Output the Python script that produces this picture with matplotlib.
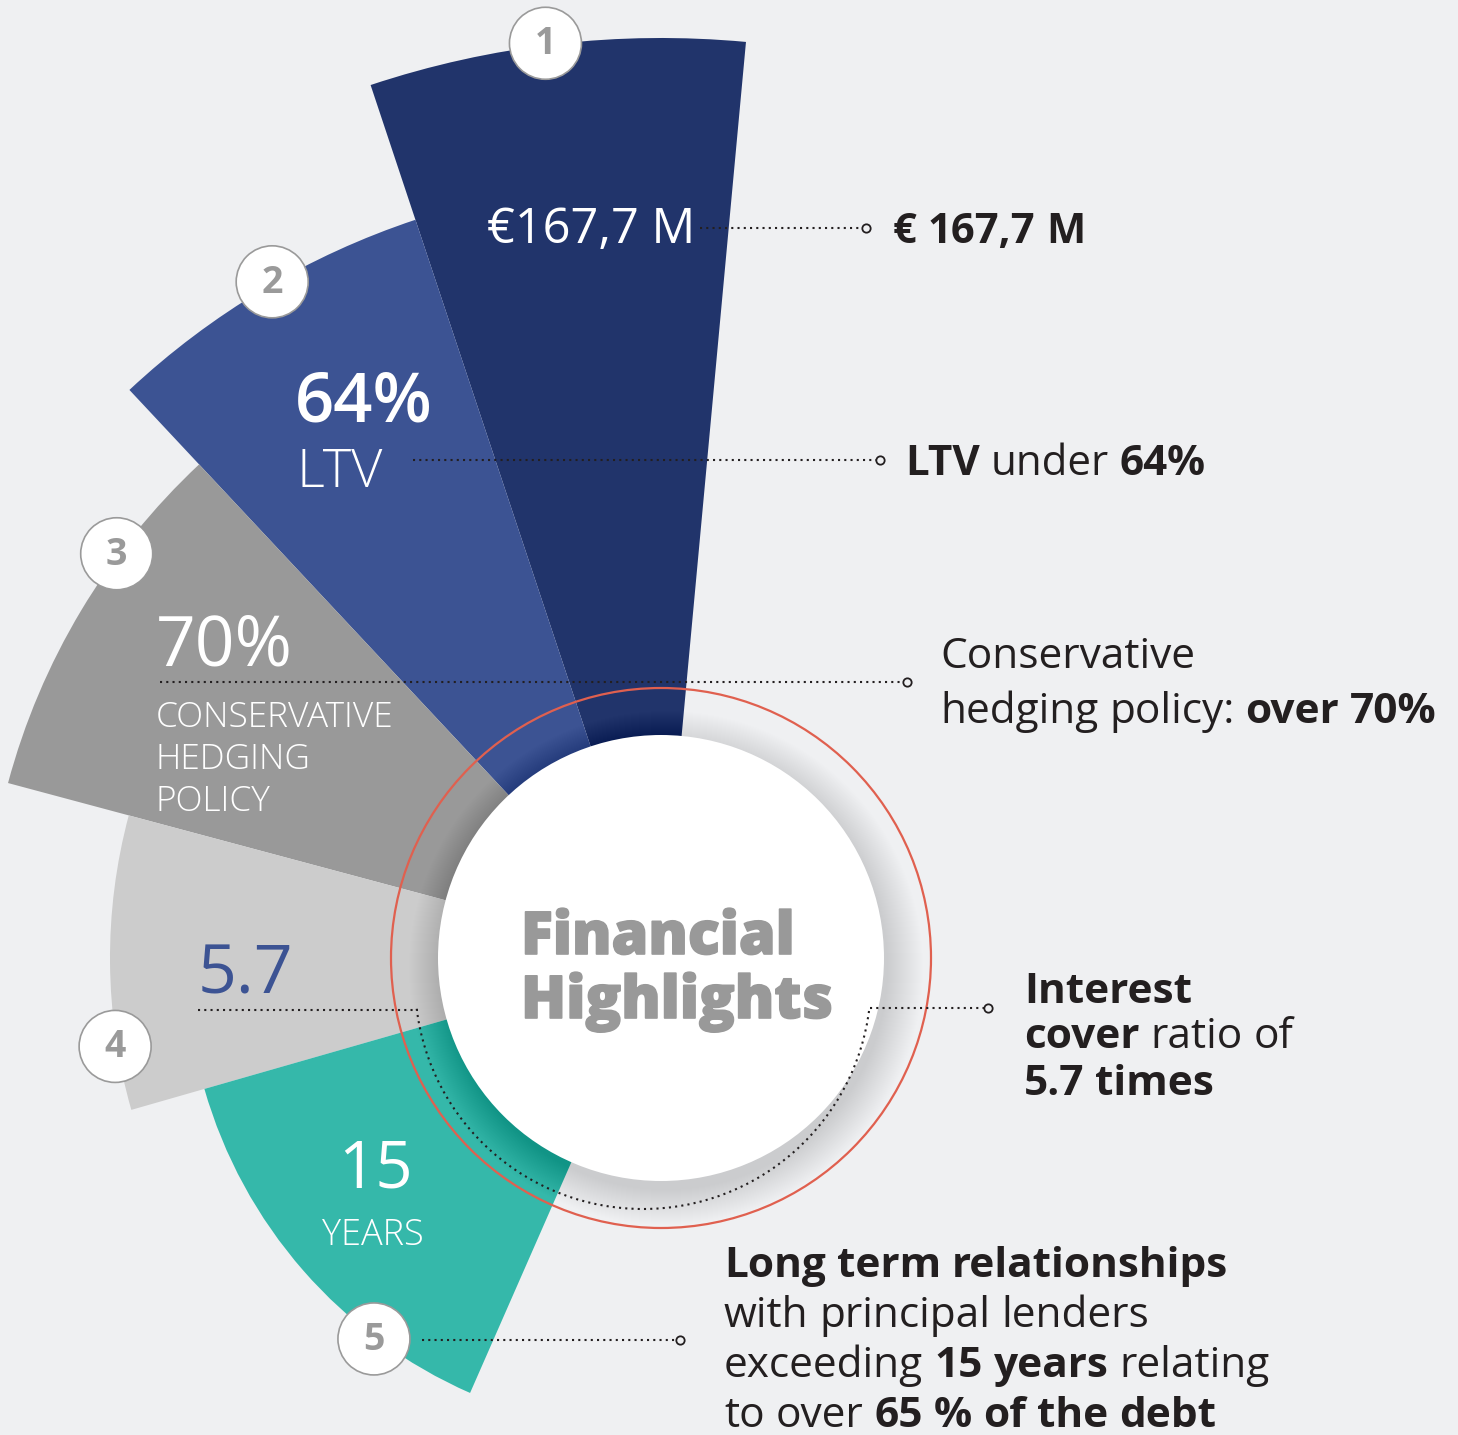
import numpy as np
import matplotlib.pyplot as plt
import matplotlib.patheffects as pe
from matplotlib.patches import Wedge, Circle, Arc

plt.rcParams['font.family'] = ['Open Sans', 'DejaVu Sans']

W, H = 1458, 1435
CX, CY = 661, H - 958

# data
steps = ['1', '2', '3', '4', '5']
edges = [84.7, 108.4, 133.1, 165.0, 196.0, 246.3]   # wedge boundaries (deg)
reach = [920, 778, 676, 551, 475]                  # outer radius of each wedge
badge_angle = [97.2, 119.9, 143.4, 189.2, 233.0]
colors = ['#21346B', '#3C5393', '#999999', '#CCCCCC', '#35B8AA']

fig = plt.figure(figsize=(W / 100, H / 100), dpi=100)
fig.patch.set_facecolor('#EFF0F2')
ax = fig.add_axes([0, 0, 1, 1])
ax.set_xlim(0, W)
ax.set_ylim(0, H)
ax.axis('off')

# wedges
for i in range(len(steps)):
    ax.add_patch(Wedge((CX, CY), reach[i], edges[i], edges[i + 1],
                       facecolor=colors[i], edgecolor='none', zorder=1))

# soft shadow + white centre
for k in range(36, 0, -1):
    ax.add_patch(Circle((CX + 5, CY - 10), 221 + k, facecolor='black',
                        edgecolor='none', alpha=0.005, zorder=2))
ax.add_patch(Circle((CX, CY), 223, facecolor='white', edgecolor='none', zorder=3))
ax.add_patch(Circle((CX, CY), 270, facecolor='none', edgecolor='#E0604F',
                    lw=1.6, zorder=4))

# dotted leader lines
dot = dict(color='#231F20', lw=1.5, ls=(0, (1, 2.0)), zorder=5)
mk = dict(marker='o', ms=6, mfc='#EFF0F2', mec='#231F20', mew=1.3, ls='none', zorder=6)


def yy(y):
    return H - y


leaders = [((700, 866), 228), ((413, 880), 460), ((160, 907), 682),
           ((870, 988), 1008), ((422, 680), 1340)]
for (x0, x1), y in leaders:
    ax.plot([x0, x1], [yy(y), yy(y)], **dot)
    ax.plot([x1], [yy(y)], **mk)
ax.plot([198, 418], [yy(1010), yy(1010)], **dot)
ax.add_patch(Arc((643, yy(981)), 456, 456, theta1=187, theta2=353,
                 color='#231F20', lw=1.5, ls=(0, (1, 2.0)), zorder=5))

# badges
for i, s in enumerate(steps):
    a = np.radians(badge_angle[i])
    r = reach[i] + 2
    bx, by = CX + r * np.cos(a), CY + r * np.sin(a)
    ax.add_patch(Circle((bx, by), 36, facecolor='white', edgecolor='#9A9A9A',
                        lw=1.2, zorder=7))
    ax.text(bx, by - 1, s, fontsize=27, fontweight='bold', color='#9A9A9A',
            ha='center', va='center', zorder=8)

# text inside the wedges
wt = dict(color='white', va='baseline', ha='left', zorder=6)
ax.text(487, yy(243), '€167,7 M', fontsize=35, fontweight='normal', **wt)
ax.text(295, yy(422), '64%', fontsize=49.5, fontweight='semibold', **wt)
ax.text(297, yy(487), 'LTV', fontsize=39, fontweight='light', **wt)
ax.text(156, yy(665), '70%', fontsize=50, fontweight='normal', **wt)
for j, s in enumerate(['CONSERVATIVE', 'HEDGING', 'POLICY']):
    ax.text(156, yy(727 + 42 * j), s, fontsize=25.4, fontweight='light', **wt)
ax.text(198, yy(993), '5.7', fontsize=49, color='#3C5393', va='baseline', ha='left', zorder=6)
ax.text(338, yy(1188), '15', fontsize=47, fontweight='normal', **wt)
ax.text(322, yy(1245), 'YEARS', fontsize=26, fontweight='light', **wt)

# centre title
for j, s in enumerate(['Financial', 'Highlights']):
    ax.text(521, yy(954 + 64 * j), s, fontsize=42.5, fontweight='heavy',
            color='#999999', va='baseline', ha='left', zorder=6,
            path_effects=[pe.withStroke(linewidth=1.2, foreground='#999999')])

# right-hand captions with mixed weights
rend = fig.canvas.get_renderer()


def rich(x, y, parts, size):
    t1 = ax.text(0, 0, 'n n', fontsize=size)
    t2 = ax.text(0, 0, 'nn', fontsize=size)
    gap = t1.get_window_extent(rend).width - t2.get_window_extent(rend).width
    t1.remove()
    t2.remove()
    for s, b in parts:
        t = ax.text(x, yy(y), s, fontsize=size, color='#231F20',
                    fontweight='bold' if b else 'normal',
                    va='baseline', ha='left', zorder=6)
        x += t.get_window_extent(rend).width + gap


rich(893, 243, [('€', True), ('167,7', True), ('M', True)], 30)
rich(905, 475, [('LTV', True), ('under', False), ('64%', True)], 30.3)
rich(940, 668, [('Conservative', False)], 30.5)
rich(940, 723, [('hedging', False), ('policy:', False), ('over', True), ('70%', True)], 30.5)
rich(1024, 1003, [('Interest', True)], 30.5)
rich(1024, 1048, [('cover', True), ('ratio', False), ('of', False)], 30.5)
rich(1024, 1095, [('5.7', True), ('times', True)], 30.5)
rich(724, 1277, [('Long', True), ('term', True), ('relationships', True)], 30.5)
rich(724, 1327, [('with', False), ('principal', False), ('lenders', False)], 30.5)
rich(724, 1377, [('exceeding', False), ('15', True), ('years', True), ('relating', False)], 30.5)
rich(724, 1427, [('to', False), ('over', False), ('65', True), ('%', True), ('of', True),
                 ('the', True), ('debt', True)], 30.5)

fig.savefig('out.png', dpi=100, facecolor=fig.get_facecolor())
